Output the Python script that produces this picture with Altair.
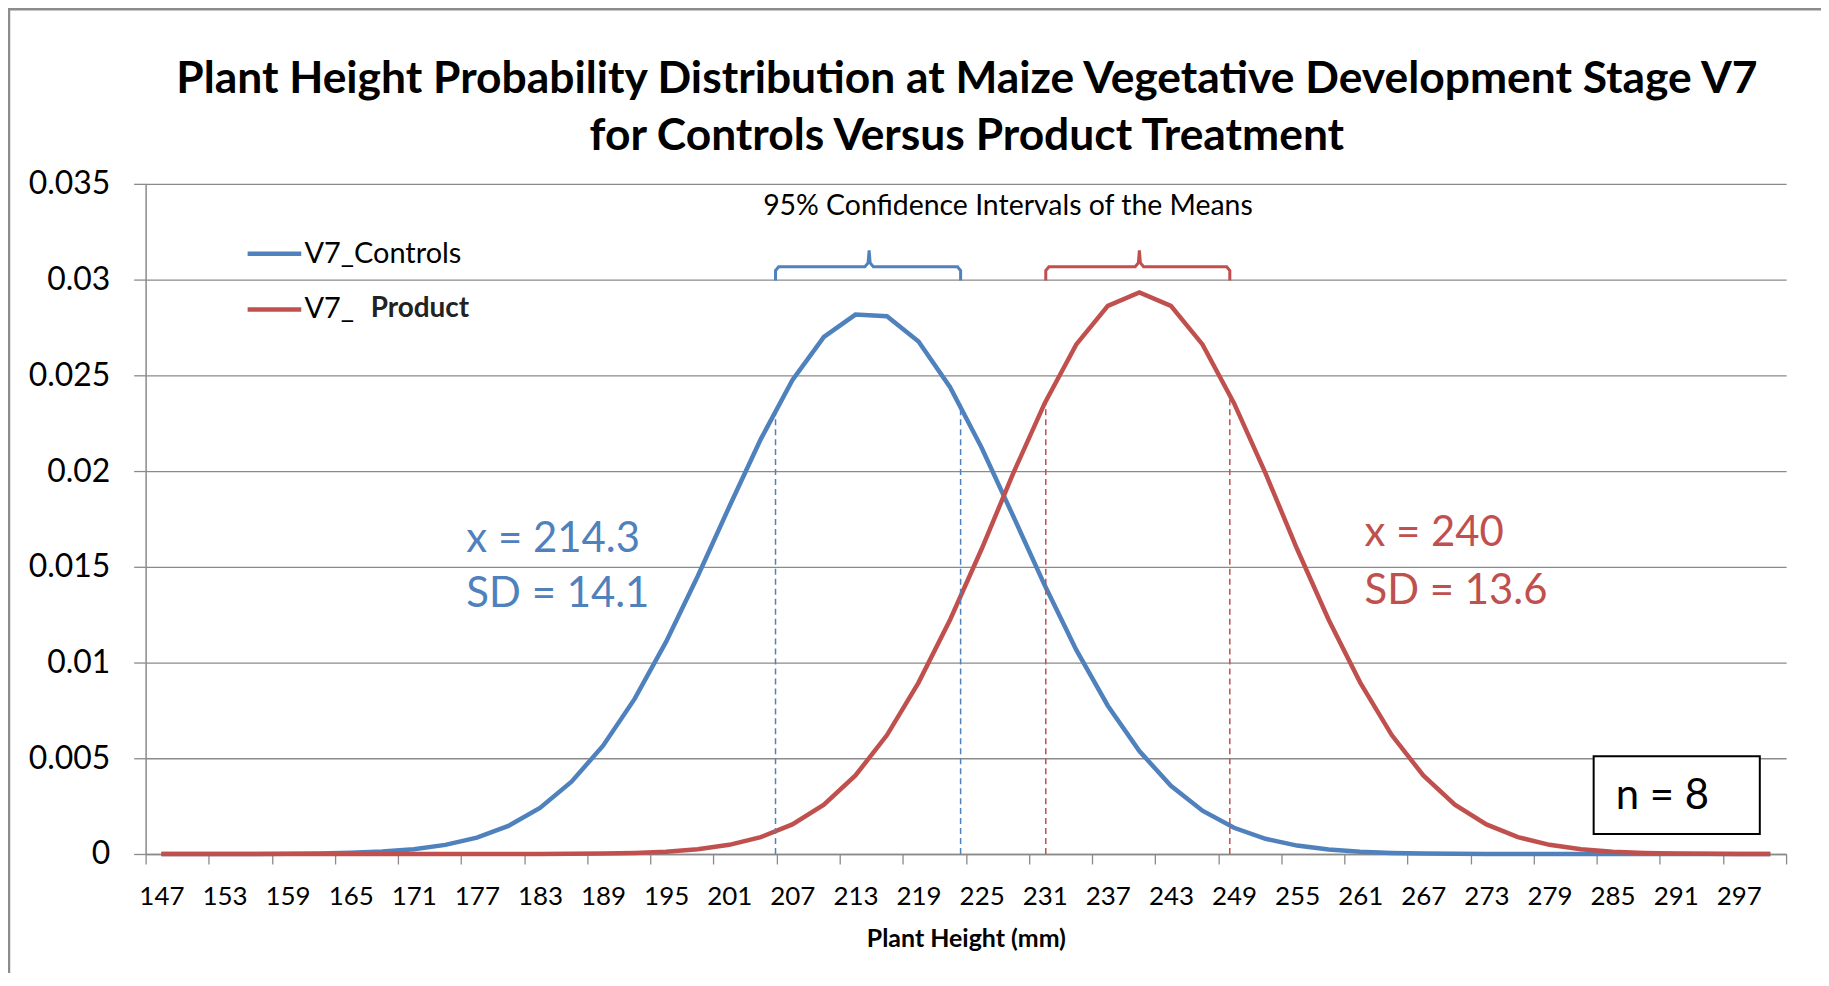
import altair as alt
import pandas as pd

# ---- data ----
heights = [147, 150, 153, 156, 159, 162, 165, 168, 171, 174, 177, 180, 183, 186, 189,
           192, 195, 198, 201, 204, 207, 210, 213, 216, 219, 222, 225, 228, 231, 234,
           237, 240, 243, 246, 249, 252, 255, 258, 261, 264, 267, 270, 273, 276, 279,
           282, 285, 288, 291, 294, 297, 300]

controls = [0.0000003, 0.0000009, 0.0000022, 0.0000055, 0.0000129, 0.0000291, 0.0000628,
            0.0001288, 0.0002535, 0.000476, 0.000856, 0.001468, 0.002408, 0.003775,
            0.005656, 0.00810, 0.011089, 0.014504, 0.018134, 0.021668, 0.024746,
            0.027010, 0.028174, 0.028089, 0.026766, 0.024375, 0.021215, 0.017650,
            0.014031, 0.010661, 0.007744, 0.005373, 0.003565, 0.002260, 0.001369,
            0.000793, 0.000439, 0.000232, 0.0001174, 0.0000567, 0.0000262, 0.0000116,
            0.0000049, 0.000002, 0.0000008, 0.0000003, 0.0000001, 0.0, 0.0, 0.0, 0.0, 0.0]

product = [0.0, 0.0, 0.0, 0.0, 0.0, 0.0, 0.0, 0.0, 0.0000001, 0.0000002, 0.0000006,
           0.0000017, 0.0000045, 0.000011, 0.0000259, 0.000058, 0.0001233, 0.000249,
           0.000479, 0.000880, 0.001546, 0.002577, 0.004100, 0.006210, 0.008950,
           0.012237, 0.015929, 0.019878, 0.023547, 0.026614, 0.028629, 0.029334,
           0.028629, 0.026614, 0.023547, 0.019878, 0.015929, 0.012237, 0.008950,
           0.006210, 0.004100, 0.002577, 0.001546, 0.000880, 0.000479, 0.000249,
           0.0001233, 0.000058, 0.0000259, 0.000011, 0.0000045, 0.0000017]

x_tick_labels = [147, 153, 159, 165, 171, 177, 183, 189, 195, 201, 207, 213, 219, 225,
                 231, 237, 243, 249, 255, 261, 267, 273, 279, 285, 291, 297]
y_ticks = [0, 0.005, 0.01, 0.015, 0.02, 0.025, 0.03, 0.035]

series_names = ["V7_Controls", "V7_  Product"]
series_colors = ["#4F81BD", "#C0504D"]

title_lines = ["Plant Height Probability Distribution at Maize Vegetative Development Stage V7",
               "for Controls Versus Product Treatment"]

# confidence intervals of the means (low, high), mean, curve height at the CI limits
ci_controls = [205.4, 223.0]
ci_product = [231.1, 248.6]
means = [214.3, 240.0]
ci_tops_controls = [0.0232, 0.0235]
ci_tops_product = [0.0236, 0.0239]
stats_lines = [["x = 214.3", "SD = 14.1"], ["x = 240", "SD = 13.6"]]

# ---- layout constants ----
W, H = 1645, 672
half_band = 1.5
x_domain = [heights[0] - half_band, heights[-1] + half_band]
boundaries = [h - half_band for h in heights] + [heights[-1] + half_band]
px_per_unit = W / (x_domain[1] - x_domain[0])
label_offset = half_band * px_per_unit

GRID = "#8a8a8a"
FONT = "Lato"

x_scale = alt.Scale(domain=x_domain, nice=False, zero=False)
y_scale = alt.Scale(domain=[0, 0.035], nice=False)

label_values = [v - half_band for v in x_tick_labels]
label_expr = ("indexof([" + ",".join(str(v) for v in label_values) +
              "], datum.value) >= 0 ? format(datum.value + " + str(half_band) + ", 'd') : ''")

x_axis = alt.Axis(values=boundaries, labelExpr=label_expr, labelOffset=label_offset,
                  labelOverlap=False, labelFlush=False, grid=False,
                  tickSize=10, tickColor=GRID, tickWidth=1.3, domainColor=GRID,
                  domainWidth=1.5, labelFontSize=26, labelPadding=20, labelColor="#000",
                  title="Plant Height (mm)", titleFontSize=25, titleFontWeight="bold",
                  titleColor="#000", titlePadding=17)
y_axis = alt.Axis(values=y_ticks, format=".3~f", grid=True, gridColor=GRID, gridWidth=1.3,
                  tickSize=12, tickColor=GRID, tickWidth=1.3, domainColor=GRID,
                  domainWidth=1.5, labelFontSize=32, labelPadding=24, labelColor="#000",
                  title=None)

df = pd.DataFrame({
    "height": heights * 2,
    "density": controls + product,
    "series": [series_names[0]] * len(heights) + [series_names[1]] * len(heights),
})

base = alt.Chart(df)

line_c = base.transform_filter(alt.datum.series == series_names[0]).mark_line(
    color=series_colors[0], strokeWidth=4.5).encode(
    x=alt.X("height:Q", scale=x_scale, axis=x_axis),
    y=alt.Y("density:Q", scale=y_scale, axis=y_axis))
line_p = base.transform_filter(alt.datum.series == series_names[1]).mark_line(
    color=series_colors[1], strokeWidth=4.5).encode(
    x=alt.X("height:Q", scale=x_scale),
    y=alt.Y("density:Q", scale=y_scale))

color_scale = alt.Scale(domain=series_names, range=series_colors)

# dashed CI lines
ci_df = pd.DataFrame({
    "x": ci_controls + ci_product,
    "top": ci_tops_controls + ci_tops_product,
    "zero": [0.0] * 4,
    "series": [series_names[0]] * 2 + [series_names[1]] * 2,
})
ci_rules = alt.Chart(ci_df).mark_rule(strokeWidth=1.5, strokeDash=[6, 4]).encode(
    x=alt.X("x:Q", scale=x_scale),
    y=alt.Y("zero:Q", scale=y_scale),
    y2="top:Q",
    color=alt.Color("series:N", scale=color_scale, legend=None))

# brackets above the curves
bracket_base = 0.02995
bracket_bar = 0.03067
bracket_tip = 0.03152
rows = []
for name, (lo, hi), m in zip(series_names, [ci_controls, ci_product], means):
    pts = [(lo, bracket_base), (lo, bracket_bar - 0.0002), (lo + 0.3, bracket_bar),
           (m - 0.4, bracket_bar), (m - 0.1, bracket_bar + 0.0002), (m, bracket_tip),
           (m + 0.1, bracket_bar + 0.0002), (m + 0.4, bracket_bar),
           (hi - 0.3, bracket_bar), (hi, bracket_bar - 0.0002), (hi, bracket_base)]
    for k, (px, py) in enumerate(pts):
        rows.append({"x": px, "y": py, "series": name, "k": k})
br_df = pd.DataFrame(rows)
brackets = alt.Chart(br_df).mark_line(strokeWidth=3).encode(
    x=alt.X("x:Q", scale=x_scale),
    y=alt.Y("y:Q", scale=y_scale),
    order="k:Q",
    color=alt.Color("series:N", scale=color_scale, legend=None))

# stats text
st_df = pd.DataFrame({
    "x": [176.0, 176.0, 261.4, 261.4],
    "y": [0.01646, 0.01360, 0.01677, 0.01375],
    "text": stats_lines[0] + stats_lines[1],
    "series": [series_names[0]] * 2 + [series_names[1]] * 2,
})
stats = alt.Chart(st_df).mark_text(align="left", baseline="middle", fontSize=42,
                                   font=FONT).encode(
    x=alt.X("x:Q", scale=x_scale), y=alt.Y("y:Q", scale=y_scale), text="text:N",
    color=alt.Color("series:N", scale=color_scale, legend=None))

# CI caption
cap = alt.Chart(pd.DataFrame({"x": [227.5], "y": [0.03385],
                              "t": ["95% Confidence Intervals of the Means"]})).mark_text(
    align="center", baseline="middle", fontSize=28.5, font=FONT, color="#000").encode(
    x=alt.X("x:Q", scale=x_scale), y=alt.Y("y:Q", scale=y_scale), text="t:N")

# legend (manual, "Product" is bold)
leg_lines = pd.DataFrame({"x": [155.2, 155.2], "x2": [160.3, 160.3],
                          "y": [0.03135, 0.02844], "series": series_names})
legend_lines = alt.Chart(leg_lines).mark_rule(strokeWidth=4.5).encode(
    x=alt.X("x:Q", scale=x_scale), x2="x2:Q", y=alt.Y("y:Q", scale=y_scale),
    color=alt.Color("series:N", scale=color_scale, legend=None))
leg_text = pd.DataFrame({"x": [160.6, 160.6, 166.9], "y": [0.03135, 0.02844, 0.02844],
                         "t": ["V7_Controls", "V7_", "Product"],
                         "w": ["normal", "normal", "bold"]})
legend_text_n = alt.Chart(leg_text).transform_filter(alt.datum.w == "normal").mark_text(
    align="left", baseline="middle", fontSize=29, font=FONT, color="#000").encode(
    x=alt.X("x:Q", scale=x_scale), y=alt.Y("y:Q", scale=y_scale), text="t:N")
legend_text_b = alt.Chart(leg_text).transform_filter(alt.datum.w == "bold").mark_text(
    align="left", baseline="middle", fontSize=28, font=FONT, fontWeight="bold",
    color="#222").encode(
    x=alt.X("x:Q", scale=x_scale), y=alt.Y("y:Q", scale=y_scale), text="t:N")

# n = 8 box
nbox = alt.Chart(pd.DataFrame({"x": [283.2], "x2": [299.0], "y": [0.00510], "y2": [0.00104]})).mark_rect(
    fill="white", stroke="black", strokeWidth=2).encode(
    x=alt.X("x:Q", scale=x_scale), x2="x2:Q", y=alt.Y("y:Q", scale=y_scale), y2="y2:Q")
ntext = alt.Chart(pd.DataFrame({"x": [285.3], "y": [0.00302], "t": ["n = 8"]})).mark_text(
    align="left", baseline="middle", fontSize=42, font=FONT, color="#000").encode(
    x=alt.X("x:Q", scale=x_scale), y=alt.Y("y:Q", scale=y_scale), text="t:N")

# chart title, two centred lines above the plot
title_layers = []
for line_text, line_y in zip(title_lines, [-104, -47]):
    title_layers.append(
        alt.Chart(pd.DataFrame({"t": [line_text]})).mark_text(
            align="center", baseline="middle", fontSize=44.5, font=FONT,
            fontWeight="bold", color="#000").encode(
            x=alt.value(W / 2 + 1), y=alt.value(line_y), text="t:N"))

# outer frame of the chart
frame = alt.Chart(pd.DataFrame({"a": [0]})).mark_rect(
    fill=None, stroke="#8c8c8c", strokeWidth=2.5).encode(
    x=alt.value(-137), x2=alt.value(W + 40), y=alt.value(-175), y2=alt.value(H + 200))

chart = alt.layer(
    frame, line_c, line_p, ci_rules, brackets, stats, cap, legend_lines,
    legend_text_n, legend_text_b, nbox, ntext, *title_layers
).properties(
    width=W, height=H,
    padding={"left": 138, "top": 175, "right": 35, "bottom": 118},
    autosize=alt.AutoSizeParams(type="none"),
).configure(font=FONT).configure_view(stroke=None)

chart.save("out.html", embed_options={"renderer": "svg", "actions": False})
